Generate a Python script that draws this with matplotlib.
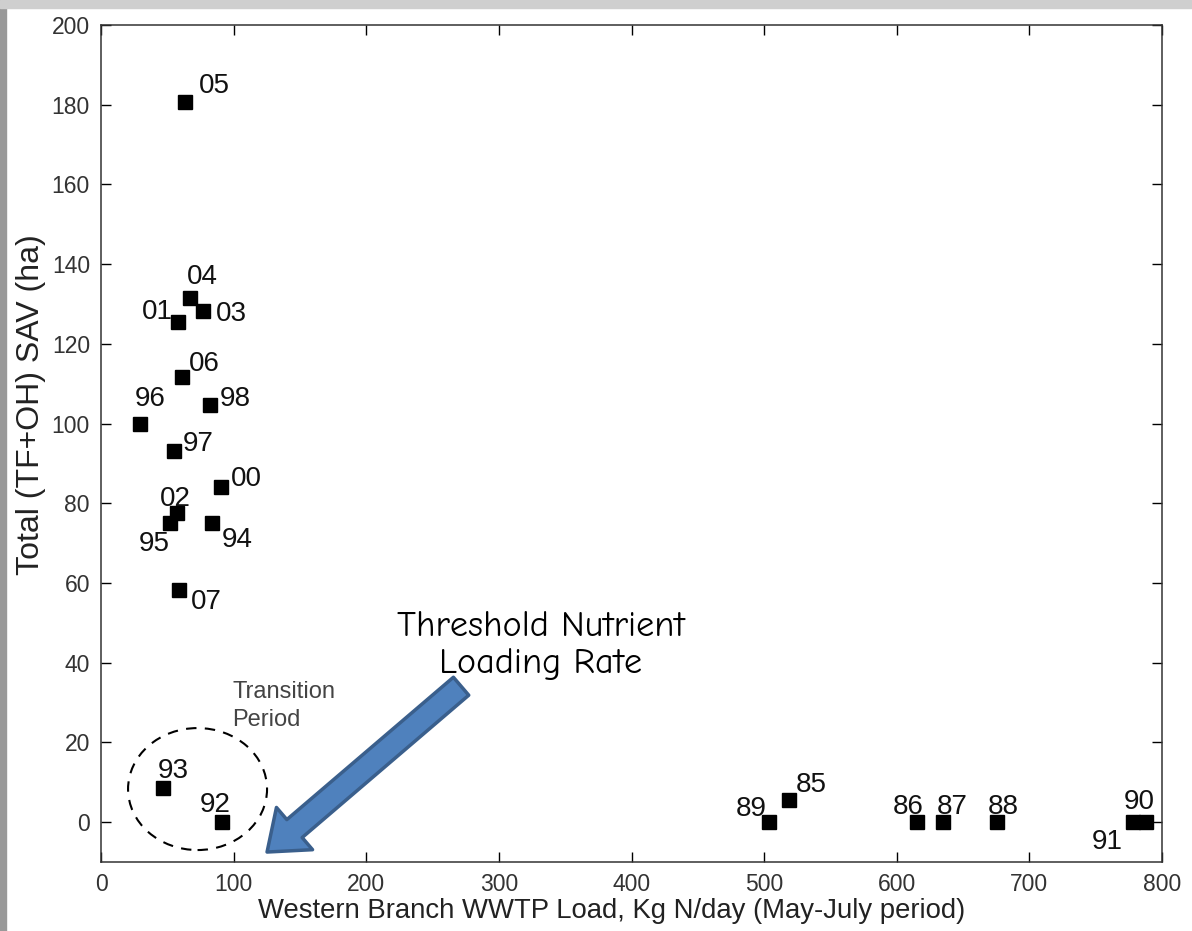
import numpy as np
import matplotlib
matplotlib.use('Agg')
import matplotlib.pyplot as plt
from matplotlib.patches import Ellipse, FancyArrowPatch, Rectangle

# year labels, WWTP load (kg N/day), SAV area (ha)
years = ['05', '04', '01', '03', '06', '98', '96', '97', '00', '02', '95', '94', '07',
         '93', '92', '89', '85', '86', '87', '88', '90', '91']
load = [63.3, 67, 58, 77, 61, 82, 29.4, 55, 90.5, 57.3, 52, 83.7, 58.8,
        46.8, 91.3, 503.8, 518.9, 615.4, 635, 675.7, 788, 778]
sav = [180.7, 131.5, 125.5, 128.2, 111.7, 104.6, 99.9, 93.1, 84.1, 77.5, 75, 75, 58.2,
       8.5, 0, 0, 5.5, 0, 0, 0, 0, 0]
# label offsets from marker, pixels (right, up)
lab_off = [(29, 19), (13, 24), (-21, 13), (28, 0), (22, 16), (25, 9), (10, 28), (24, 10),
           (25, 11), (-2, 17), (-16, -18), (25, -14), (27, -9),
           (10, 20), (-7, 20), (-18, 16), (22, 18), (-9, 18), (9, 18), (6, 18),
           (-7, 23), (-26, -17)]

xticks = np.arange(0, 801, 100)
yticks = np.arange(0, 201, 20)

plt.rcParams['font.family'] = ['Liberation Sans', 'DejaVu Sans']

fig = plt.figure(figsize=(11.92, 9.31), dpi=100)
fig.patches.append(Rectangle((0, 0), 6/1192, 1, transform=fig.transFigure,
                             color='#999999', zorder=-1))
fig.patches.append(Rectangle((0, 1-8/931), 1, 8/931, transform=fig.transFigure,
                             color='#cfcfcf', zorder=-1))
ax = fig.add_axes([101/1192, 1-862/931, 1061/1192, 837/931])

ax.plot(load, sav, 's', color='black', ms=9.5, ls='none')
px = 72/100
for x, y, t, (dx, dy) in zip(load, sav, years, lab_off):
    ax.annotate(t, (x, y), xytext=(dx*px, dy*px), textcoords='offset points',
                ha='center', va='center_baseline', fontsize=20, color='#111111')

ax.set_xlim(0, 800)
ax.set_ylim(-10, 200)
ax.set_xticks(xticks)
ax.set_yticks(yticks)
ax.tick_params(direction='in', length=7, width=1, top=True, right=True,
               labelsize=16.5, labelcolor='#333333', pad=8)
for s in ax.spines.values():
    s.set_linewidth(1.1)
    s.set_color('#333333')

ax.set_xlabel('Western Branch WWTP Load, Kg N/day (May-July period)', fontsize=19.8,
              color='#222222')
ax.xaxis.set_label_coords(0.481, -0.043)
ax.set_ylabel('Total (TF+OH) SAV (ha)', fontsize=23, color='#222222')
ax.yaxis.set_label_coords(-0.052, 0.546)

ax.add_patch(Ellipse((72.8, 8.3), 104.8, 30.6, fill=False, ls=(0, (5, 4)),
                     lw=1.5, color='black'))
ax.text(98.8, 35.5, 'Transition\nPeriod', fontsize=17, color='#444444',
        ha='left', va='top', linespacing=1.35)

ax.add_patch(FancyArrowPatch((271.5, 34.1), (125.2, -7.5),
                             arrowstyle='simple,head_length=26,head_width=40,tail_width=17',
                             mutation_scale=1, shrinkA=0, shrinkB=0,
                             fc='#4F81BD', ec='#3A5F8C', lw=2.5, clip_on=False))
ax.text(331.8, 44.2, 'Threshold Nutrient\nLoading Rate', fontsize=26, ha='center',
        va='center', color='black', linespacing=1.2, family=['Comic Neue', 'DejaVu Sans'])

fig.savefig('out.png', dpi=100)
